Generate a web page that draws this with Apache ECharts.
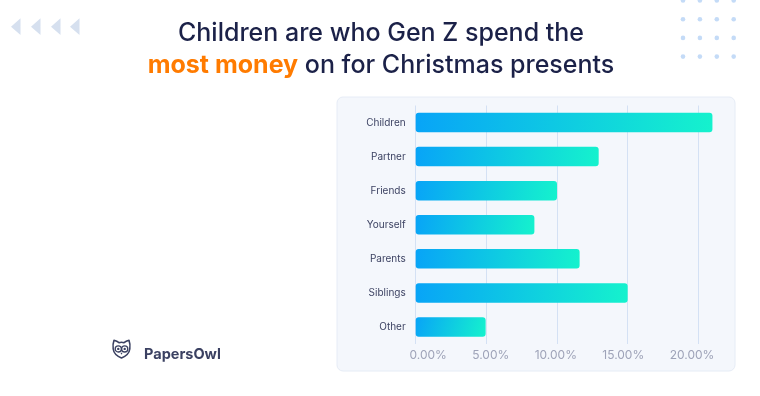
<!DOCTYPE html>
<html>
<head>
<meta charset="utf-8">
<title>Children are who Gen Z spend the most money on for Christmas presents</title>
<script src="https://cdn.jsdelivr.net/npm/echarts@6/dist/echarts.min.js"></script>
<style>
    html, body { margin: 0; padding: 0; background: #ffffff; }
    #chart { width: 760px; height: 396px; }
</style>
</head>
<body>
<div id="chart"></div>
<script>
// share of Gen Z spending the most money on each recipient (%)
var categories = ['Children', 'Partner', 'Friends', 'Yourself', 'Parents', 'Siblings', 'Other'];
var values = [21.0, 12.95, 10.0, 8.4, 11.6, 15.0, 4.95];
var tickStep = 5;
var tickMax = 20;

var FONT = 'Inter, "Noto Sans", sans-serif';

// in the original the tick labels sit a bit off their grid lines
var labelShift = [12.5, 4.4, -1.2, -4.4, -6.3];

// owl logo as a small inline svg
var owlSvg = '<svg xmlns="http://www.w3.org/2000/svg" width="40" height="42" viewBox="-1 -1 20 21">' +
    '<path d="M1.5,0.8 Q4.5,1.5 6.5,3.2 Q9,2.4 11.5,3.2 Q13.5,1.5 16.5,0.8 Q18,5 17.3,9.5 Q16.5,15.5 9,18.5 Q1.5,15.5 0.7,9.5 Q0,5 1.5,0.8 Z" fill="none" stroke="#3b4162" stroke-width="1.6" stroke-linejoin="round"/>' +
    '<circle cx="5.8" cy="9.4" r="3.1" fill="none" stroke="#3b4162" stroke-width="1.3"/>' +
    '<circle cx="12.2" cy="9.4" r="3.1" fill="none" stroke="#3b4162" stroke-width="1.3"/>' +
    '<circle cx="5.8" cy="9.4" r="1.2" fill="#3b4162"/>' +
    '<circle cx="12.2" cy="9.4" r="1.2" fill="#3b4162"/>' +
    '<path d="M7.9,13.3 L10.1,13.3 L9,15.2 Z" fill="#3b4162"/>' +
    '</svg>';

// decoration: little triangles top left and dot grid top right
var deco = [];
[11, 31, 51, 70].forEach(function (x) {
    deco.push({
        type: 'polygon',
        shape: { points: [[x, 26.7], [x + 9.5, 18.3], [x + 9.5, 35]] },
        style: { fill: '#d6e0ef' },
        silent: true
    });
});
for (var r = 0; r < 4; r++) {
    for (var c = 0; c < 4; c++) {
        deco.push({
            type: 'circle',
            shape: { cx: 683 + c * 16.9, cy: 0.5 + r * 18.7, r: 2.3 },
            style: { fill: '#c4dbf7' },
            silent: true
        });
    }
}

// panel behind the chart
deco.push({
    type: 'rect',
    z: -10,
    shape: { x: 337, y: 97, width: 398, height: 274, r: 6 },
    style: { fill: '#f4f7fc', stroke: '#e6ecf6', lineWidth: 1 },
    silent: true
});

// PapersOwl logo
deco.push({
    type: 'image',
    style: {
        image: 'data:image/svg+xml;charset=utf-8,' + encodeURIComponent(owlSvg),
        x: 111.5,
        y: 338.5,
        width: 20,
        height: 21
    },
    silent: true
});
deco.push({
    type: 'text',
    x: 144,
    y: 354.5,
    style: {
        text: 'PapersOwl',
        font: 'bold 14.5px ' + FONT,
        fill: '#3b4162',
        verticalAlign: 'middle'
    },
    silent: true
});

var tickRich = {};
labelShift.forEach(function (s, i) {
    tickRich['t' + i] = {
        fontFamily: FONT,
        fontSize: 12,
        color: '#9ea3b8',
        padding: s > 0 ? [0, 0, 0, 2 * s] : [0, -2 * s, 0, 0]
    };
});

var option = {
    backgroundColor: '#ffffff',
    title: {
        text: 'Children are who Gen Z spend the\n{hl|most money} on for Christmas presents',
        left: 381,
        top: 17,
        textAlign: 'center',
        padding: 0,
        textStyle: {
            fontFamily: FONT,
            fontSize: 25,
            fontWeight: 500,
            lineHeight: 32,
            color: '#1b2148',
            rich: {
                hl: {
                    fontFamily: FONT,
                    fontSize: 25,
                    fontWeight: 'bold',
                    lineHeight: 32,
                    color: '#ff7b00'
                }
            }
        }
    },
    graphic: deco,
    grid: {
        left: 415.7,
        right: 61.7,
        top: 105.5,
        bottom: 52
    },
    xAxis: {
        type: 'value',
        min: 0,
        max: tickMax,
        interval: tickStep,
        axisLine: { show: false },
        axisTick: { show: false },
        splitLine: { lineStyle: { color: '#d4e1f4', width: 1 } },
        axisLabel: {
            margin: 5,
            fontFamily: FONT,
            fontSize: 12,
            color: '#9ea3b8',
            rich: tickRich,
            formatter: function (v) {
                var i = Math.round(v / tickStep);
                return '{t' + i + '|' + v.toFixed(2) + '%}';
            }
        }
    },
    yAxis: {
        type: 'category',
        data: categories,
        inverse: true,
        axisLine: { show: false },
        axisTick: { show: false },
        axisLabel: {
            margin: 10,
            fontFamily: FONT,
            fontSize: 10,
            color: '#3d4363'
        }
    },
    series: [{
        type: 'bar',
        data: values,
        barWidth: 19.5,
        clip: false,
        silent: true,
        itemStyle: {
            borderRadius: 3,
            color: {
                type: 'linear', x: 0, y: 0, x2: 1, y2: 1,
                colorStops: [
                    { offset: 0, color: '#08a4f7' },
                    { offset: 1, color: '#15f2cd' }
                ]
            }
        }
    }]
};

var myChart = echarts.init(document.getElementById('chart'));
myChart.setOption(option);
</script>
</body>
</html>
